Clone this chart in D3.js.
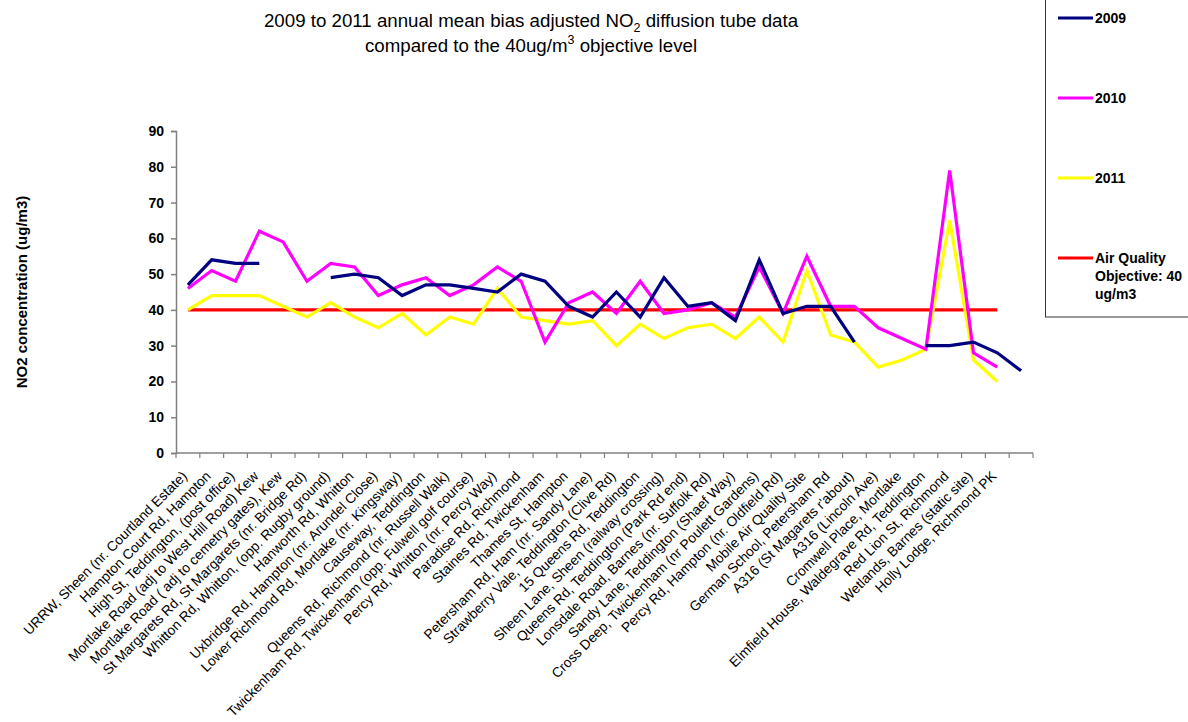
<!DOCTYPE html>
<html lang="en">
<head>
<meta charset="utf-8">
<title>NO2 diffusion tube data 2009-2011</title>
<script src="https://d3js.org/d3.v7.min.js"></script>
<style>
  body { margin: 0; background: #fff; }
  svg { font-family: Arial, "Liberation Sans", sans-serif; }
</style>
</head>
<body>
<script>
// sites along the x axis (last one has no label in the original)
var sites = [
  "URRW, Sheen (nr. Courtland Estate)",
  "Hampton Court Rd, Hampton",
  "High St, Teddington, (post office)",
  "Mortlake Road (adj to West Hill Road) Kew",
  "Mortlake Road ( adj to cemetry gates), Kew",
  "St Margarets Rd, St Margarets (nr. Bridge Rd)",
  "Whitton Rd, Whitton, (opp. Rugby ground)",
  "Hanworth Rd, Whitton",
  "Uxbridge Rd, Hampton (nr. Arundel Close)",
  "Lower Richmond Rd, Mortlake (nr. Kingsway)",
  "Causeway, Teddington",
  "Queens Rd, Richmond (nr. Russell Walk)",
  "Twickenham Rd, Twickenham (opp. Fulwell golf course)",
  "Percy Rd, Whitton (nr. Percy Way)",
  "Paradise Rd, Richmond",
  "Staines Rd, Twickenham",
  "Thames St, Hampton",
  "Petersham Rd, Ham (nr. Sandy Lane)",
  "Strawberry Vale, Teddington (Clive Rd)",
  "15 Queens Rd, Teddington",
  "Sheen Lane, Sheen (railway crossing)",
  "Queens Rd, Teddington (Park Rd end)",
  "Lonsdale Road, Barnes (nr. Suffolk Rd)",
  "Sandy Lane, Teddington (Shaef Way)",
  "Cross Deep, Twickenham (nr Poulett Gardens)",
  "Percy Rd, Hampton (nr. Oldfield Rd)",
  "Mobile Air Quality Site",
  "German School, Petersham Rd",
  "A316 (St Magarets r'about)",
  "A316 (Lincoln Ave)",
  "Cromwell Place, Mortlake",
  "Elmfield House, Waldegrave Rd, Teddington",
  "Red Lion St, Richmond",
  "Wetlands, Barnes (static site)",
  "Holly Lodge, Richmond PK",
  ""
];

var y2009 = [47, 54, 53, 53, null, null, 49, 50, 49, 44, 47, 47, 46, 45, 50, 48, 41, 38,
             45, 38, 49, 41, 42, 37, 54, 39, 41, 41, 31, null, null, 30, 30, 31, 28, 23];
var y2010 = [46, 51, 48, 62, 59, 48, 53, 52, 44, 47, 49, 44, 47, 52, 48, 31, 42, 45,
             39, 48, 39, 40, 42, 38, 52, 39, 55, 41, 41, 35, 32, 29, 79, 28, 24, null];
var y2011 = [40, 44, 44, 44, 41, 38, 42, 38, 35, 39, 33, 38, 36, 46, 38, 37, 36, 37,
             30, 36, 32, 35, 36, 32, 38, 31, 51, 33, 31, 24, 26, 29, 65, 26, 20, null];
var objective = sites.map(function (d, i) { return i < 35 ? 40 : null; });

var yTicks = [0, 10, 20, 30, 40, 50, 60, 70, 80, 90];

var series = [
  {name: "2009", values: y2009, color: "#000080"},
  {name: "2010", values: y2010, color: "#FF00FF"},
  {name: "2011", values: y2011, color: "#FFFF00"},
  {name: "Air Quality Objective: 40 ug/m3", values: objective, color: "#FF0000"}
];

var width = 1188, height = 722;
var margin = {left: 176, right: 155, top: 131, bottom: 269};

var svg = d3.select("body").append("svg")
    .attr("width", width)
    .attr("height", height);

var x = d3.scaleBand()
    .domain(d3.range(sites.length))
    .range([margin.left, width - margin.right]);

var y = d3.scaleLinear()
    .domain([0, 90])
    .range([height - margin.bottom, margin.top]);

// title
var title = svg.append("text")
    .attr("text-anchor", "middle")
    .attr("font-size", 18.7);
var t1 = title.append("tspan").attr("x", 531).attr("y", 27);
t1.append("tspan").text("2009 to 2011 annual mean bias adjusted NO");
t1.append("tspan").attr("font-size", 12.5).attr("dy", 5).text("2");
t1.append("tspan").attr("dy", -5).text(" diffusion tube data");
var t2 = title.append("tspan").attr("x", 531).attr("y", 52);
t2.append("tspan").text("compared to the 40ug/m");
t2.append("tspan").attr("font-size", 12.5).attr("dy", -8).text("3");
t2.append("tspan").attr("dy", 8).text(" objective level");

// y axis
var yAxis = svg.append("g")
    .attr("transform", "translate(" + margin.left + ",0)")
    .call(d3.axisLeft(y).tickValues(yTicks).tickSize(5).tickPadding(7));
yAxis.selectAll("text")
    .attr("font-size", 14)
    .attr("font-weight", "bold")
    .attr("fill", "#000")
    .style("font-family", "Arial, 'Liberation Sans', sans-serif");
yAxis.selectAll("line, path").attr("stroke", "#808080").attr("stroke-width", 1.5);

svg.append("text")
    .attr("transform", "translate(27," + (y(45)) + ") rotate(-90)")
    .attr("text-anchor", "middle")
    .attr("font-size", 15)
    .attr("font-weight", "bold")
    .text("NO2 concentration (ug/m3)");

// x axis line + ticks at category boundaries
var xg = svg.append("g");
xg.append("line")
    .attr("x1", margin.left).attr("x2", width - margin.right)
    .attr("y1", y(0)).attr("y2", y(0))
    .attr("stroke", "#808080").attr("stroke-width", 1.5);
xg.selectAll(".tick")
    .data(d3.range(sites.length + 1))
    .join("line")
    .attr("x1", function (i) { return margin.left + i * x.step(); })
    .attr("x2", function (i) { return margin.left + i * x.step(); })
    .attr("y1", y(0)).attr("y2", y(0) + 5)
    .attr("stroke", "#808080").attr("stroke-width", 1.2);

xg.selectAll(".lab")
    .data(sites)
    .join("text")
    .attr("transform", function (d, i) {
        return "translate(" + (x(i) + x.bandwidth() / 2) + "," + (y(0) + 24) + ") rotate(-45)";
    })
    .attr("text-anchor", "end")
    .attr("font-size", 13.8)
    .text(function (d) { return d; });

// lines
var line = d3.line()
    .defined(function (d) { return d !== null; })
    .x(function (d, i) { return x(i) + x.bandwidth() / 2; })
    .y(function (d) { return y(d); });

svg.append("g").selectAll("path")
    .data(series.slice().reverse())
    .join("path")
    .attr("fill", "none")
    .attr("stroke", function (d) { return d.color; })
    .attr("stroke-width", 3.2)
    .attr("stroke-linejoin", "miter")
    .attr("d", function (d) { return line(d.values); });

// legend
var lg = svg.append("g");
lg.append("rect")
    .attr("x", 1045.5).attr("y", -5)
    .attr("width", 160).attr("height", 322)
    .attr("fill", "none").attr("stroke", "#333").attr("stroke-width", 1);

var legendY = [18, 98, 178, 258];
series.forEach(function (s, i) {
    lg.append("line")
        .attr("x1", 1058).attr("x2", 1093)
        .attr("y1", legendY[i]).attr("y2", legendY[i])
        .attr("stroke", s.color).attr("stroke-width", 3.2);
    var txt = lg.append("text")
        .attr("x", 1095).attr("y", legendY[i] + 5)
        .attr("font-size", 14).attr("font-weight", "bold");
    if (i < 3) {
        txt.text(s.name);
    } else {
        ["Air Quality", "Objective: 40", "ug/m3"].forEach(function (t, k) {
            txt.append("tspan").attr("x", 1095).attr("dy", k === 0 ? 0 : 18).text(t);
        });
    }
});
</script>
</body>
</html>
